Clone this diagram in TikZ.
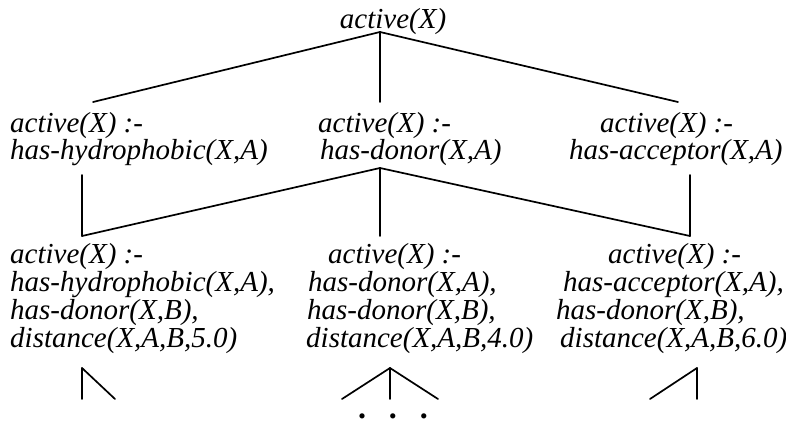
\documentclass[tikz,border=0pt]{standalone}
\usepackage{fontspec}
\setmainfont{Liberation Serif}
\begin{document}
\begin{tikzpicture}[x=1pt,y=-1pt,
  lbl/.style={anchor=base west,inner sep=0pt,font=\fontsize{29}{29}\selectfont\itshape},
  conn/.style={line width=1.7pt,line cap=round}]
\useasboundingbox (0,0) rectangle (786,425);
% top
\node[lbl,anchor=base] (root) at (393,29) {active(X)};
% level 2
\node[lbl] (a1) at (10,132) {active(X) :-};
\node[lbl] (a2) at (10,159) {has-hydrophobic(X,A)};
\node[lbl] (b1) at (318,132) {active(X) :-};
\node[lbl] (b2) at (320,159) {has-donor(X,A)};
\node[lbl] (c1) at (600,132) {active(X) :-};
\node[lbl] (c2) at (569,159) {has-acceptor(X,A)};
% level 3
\node[lbl] (d1) at (10,263) {active(X) :-};
\node[lbl] (d2) at (10,291) {has-hydrophobic(X,A),};
\node[lbl] (d3) at (10,319) {has-donor(X,B),};
\node[lbl] (d4) at (10,347) {distance(X,A,B,5.0)};
\node[lbl] (e1) at (328,263) {active(X) :-};
\node[lbl] (e2) at (308,291) {has-donor(X,A),};
\node[lbl] (e3) at (307,319) {has-donor(X,B),};
\node[lbl] (e4) at (306,347) {distance(X,A,B,4.0)};
\node[lbl] (f1) at (608,263) {active(X) :-};
\node[lbl] (f2) at (563,291) {has-acceptor(X,A),};
\node[lbl] (f3) at (556,319) {has-donor(X,B),};
\node[lbl] (f4) at (560,347) {distance(X,A,B,6.0)};
% dots
\node[anchor=base,inner sep=0pt,font=\fontsize{32}{32}\selectfont\bfseries] (dots) at (393,418) {.\hspace{23pt}.\hspace{23pt}.};
% connector points
\coordinate (rootS) at (380,32);
\coordinate (aN) at (93,102);
\coordinate (bN) at (380,102);
\coordinate (cN) at (678,102);
\coordinate (bS) at (380,168);
\coordinate (aS) at (82,175);
\coordinate (cS) at (690,175);
\coordinate (dN) at (82,236);
\coordinate (eN) at (380,236);
\coordinate (fN) at (690,236);
\coordinate (dS) at (82,368);
\coordinate (d5) at (82,399);
\coordinate (d6) at (115,399);
\coordinate (eS) at (390,368);
\coordinate (e5) at (342,399);
\coordinate (e6) at (390,399);
\coordinate (e7) at (438,399);
\coordinate (fS) at (697,368);
\coordinate (f5) at (650,399);
\coordinate (f6) at (697,399);
% connectors
\draw[conn] (rootS) -- (aN);
\draw[conn] (rootS) -- (bN);
\draw[conn] (rootS) -- (cN);
\draw[conn] (bS) -- (dN);
\draw[conn] (bS) -- (eN);
\draw[conn] (bS) -- (fN);
\draw[conn] (aS) -- (dN);
\draw[conn] (cS) -- (fN);
\draw[conn] (dS) -- (d5);
\draw[conn] (dS) -- (d6);
\draw[conn] (eS) -- (e5);
\draw[conn] (eS) -- (e6);
\draw[conn] (eS) -- (e7);
\draw[conn] (fS) -- (f5);
\draw[conn] (fS) -- (f6);
\end{tikzpicture}
\end{document}
